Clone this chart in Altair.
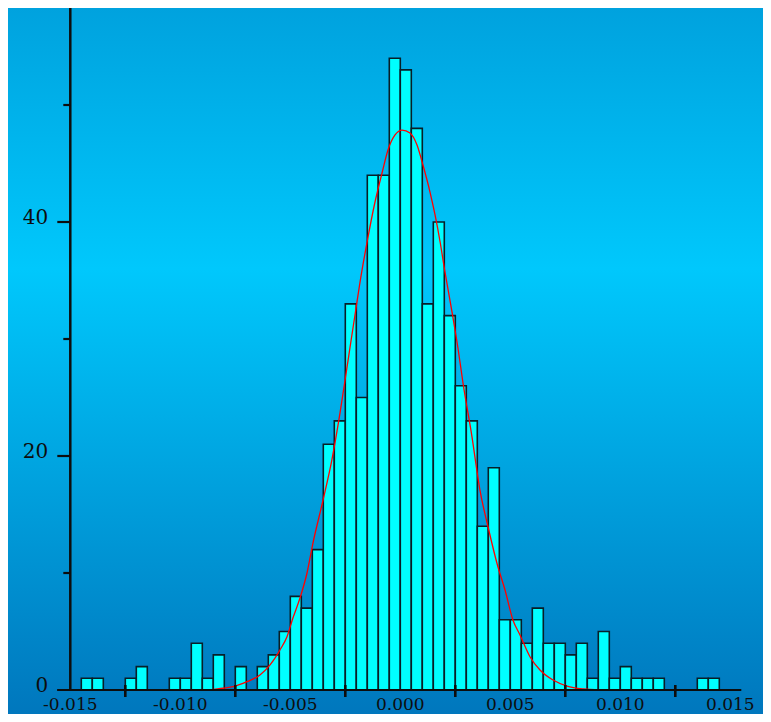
import altair as alt
import pandas as pd

# ---------------- data ----------------
bin_width = 0.0005
bin_starts = [-0.0145, -0.0140, -0.0125, -0.0120, -0.0105, -0.0100, -0.0095, -0.0090,
              -0.0085, -0.0075, -0.0065, -0.0060, -0.0055, -0.0050, -0.0045, -0.0040,
              -0.0035, -0.0030, -0.0025, -0.0020, -0.0015, -0.0010, -0.0005, 0.0000,
              0.0005, 0.0010, 0.0015, 0.0020, 0.0025, 0.0030, 0.0035, 0.0040,
              0.0045, 0.0050, 0.0055, 0.0060, 0.0065, 0.0070, 0.0075, 0.0080,
              0.0085, 0.0090, 0.0095, 0.0100, 0.0105, 0.0110, 0.0115, 0.0135, 0.0140]
counts = [1, 1, 1, 2, 1, 1, 4, 1,
          3, 2, 2, 3, 5, 8, 7, 12,
          21, 23, 33, 25, 44, 44, 54, 53,
          48, 33, 40, 32, 26, 23, 14, 19,
          6, 6, 4, 7, 4, 4, 3, 4,
          1, 5, 1, 2, 1, 1, 1, 1, 1]

curve_x = [-0.00865, -0.00806, -0.00761, -0.00697, -0.00638, -0.00592, -0.00547, -0.00515,
           -0.00488, -0.00456, -0.00424, -0.00397, -0.00351, -0.00311, -0.00274, -0.00242,
           -0.00229, -0.00206, -0.00183, -0.00151, -0.00115, -0.00083, -0.00056, -0.00024,
           0.00008, 0.00044, 0.00076, 0.00103, 0.00135, 0.00158, 0.00181, 0.00203,
           0.00235, 0.00262, 0.00285, 0.00326, 0.00362, 0.00399, 0.00444, 0.00476,
           0.00512, 0.00544, 0.00590, 0.00635, 0.00694, 0.00758, 0.00831, 0.00908]
curve_y = [0.0, 0.15, 0.28, 0.71, 1.28, 2.14, 3.42, 4.56,
           6.15, 7.86, 10.0, 12.56, 16.24, 19.66, 23.68, 27.61,
           29.23, 32.05, 34.87, 38.29, 41.71, 44.19, 46.15, 47.44,
           47.86, 47.61, 46.58, 44.87, 42.56, 40.60, 38.29, 35.73,
           32.31, 29.23, 26.24, 21.62, 17.09, 13.93, 10.51, 8.55,
           5.98, 4.70, 2.82, 1.71, 0.85, 0.34, 0.09, 0.0]

x_label_values = [-0.015, -0.010, -0.005, 0.000, 0.005, 0.010, 0.015]
x_label_texts = ["-0.015", "-0.010", "-0.005", "0.000", "0.005", "0.010", "0.015"]
x_tick_values = [-0.0125, -0.0075, -0.0025, 0.0025, 0.0075, 0.0125]
y_label_values = [0, 20, 40]
y_label_texts = ["0", "20", "40"]
y_tick_values = [10, 20, 30, 40, 50]
y_major_ticks = [20, 40]

# ---------------- layout ----------------
W, H = 755, 706
PX_PER_X = 22000.0
PX_PER_Y = 11.7
X0_PX = 392.3   # where x = 0 falls
Y0_PX = 682.0   # where y = 0 falls
x_domain = [-X0_PX / PX_PER_X, (W - X0_PX) / PX_PER_X]
y_domain = [-(H - Y0_PX) / PX_PER_Y, Y0_PX / PX_PER_Y]
xs = alt.Scale(domain=x_domain, nice=False, zero=False)
ys = alt.Scale(domain=y_domain, nice=False, zero=False)

axis_x = -0.015           # y axis sits at this x value
axis_top = 58.4
axis_left = -0.0156
axis_right = 0.0155

ink = "#0d0d0d"
font = "DejaVu Serif"

bars_df = pd.DataFrame({
    "x": bin_starts,
    "x2": [b + bin_width for b in bin_starts],
    "count": counts,
})
curve_df = pd.DataFrame({"x": curve_x, "y": curve_y})

bg_df = pd.DataFrame({"x": [x_domain[0]], "x2": [x_domain[1]],
                      "y": [y_domain[0]], "y2": [y_domain[1]]})

background = alt.Chart(bg_df).mark_rect(
    color={"gradient": "linear", "x1": 0, "y1": 0, "x2": 0, "y2": 1,
           "stops": [{"offset": 0.0, "color": "#00a2de"},
                     {"offset": 0.37, "color": "#00c8fc"},
                     {"offset": 1.0, "color": "#0077bd"}]}
).encode(
    x=alt.X("x:Q", scale=xs, axis=None), x2="x2:Q",
    y=alt.Y("y:Q", scale=ys, axis=None), y2="y2:Q",
)

bars = alt.Chart(bars_df).mark_rect(
    fill="#00ffff", stroke="#081f28", strokeWidth=1.6
).encode(
    x=alt.X("x:Q", scale=xs, axis=None), x2="x2:Q",
    y=alt.Y("count:Q", scale=ys, axis=None), y2=alt.datum(0),
)

curve = alt.Chart(curve_df).mark_line(
    color="#ff0000", strokeWidth=1.3, interpolate="monotone"
).encode(
    x=alt.X("x:Q", scale=xs, axis=None),
    y=alt.Y("y:Q", scale=ys, axis=None),
)

# axis lines
xaxis_df = pd.DataFrame({"x": [axis_left], "x2": [axis_right], "y": [0.0]})
xaxis_line = alt.Chart(xaxis_df).mark_rule(color=ink, strokeWidth=2.2).encode(
    x=alt.X("x:Q", scale=xs, axis=None), x2="x2:Q",
    y=alt.Y("y:Q", scale=ys, axis=None),
)
yaxis_df = pd.DataFrame({"x": [axis_x], "y": [0.0], "y2": [axis_top]})
yaxis_line = alt.Chart(yaxis_df).mark_rule(color=ink, strokeWidth=2.5).encode(
    x=alt.X("x:Q", scale=xs, axis=None),
    y=alt.Y("y:Q", scale=ys, axis=None), y2="y2:Q",
)

# y ticks (longer at labelled values)
ytick_df = pd.DataFrame({
    "y": y_tick_values,
    "x": [axis_x - (13 if v in y_major_ticks else 7) / PX_PER_X for v in y_tick_values],
    "x2": [axis_x] * len(y_tick_values),
})
yticks = alt.Chart(ytick_df).mark_rule(color=ink, strokeWidth=2.2).encode(
    x=alt.X("x:Q", scale=xs, axis=None), x2="x2:Q",
    y=alt.Y("y:Q", scale=ys, axis=None),
)

# x ticks crossing the axis line
xtick_df = pd.DataFrame({
    "x": x_tick_values,
    "y": [-7 / PX_PER_Y] * len(x_tick_values),
    "y2": [5 / PX_PER_Y] * len(x_tick_values),
})
xticks = alt.Chart(xtick_df).mark_rule(color=ink, strokeWidth=2.6).encode(
    x=alt.X("x:Q", scale=xs, axis=None),
    y=alt.Y("y:Q", scale=ys, axis=None), y2="y2:Q",
)

xlab_df = pd.DataFrame({"x": x_label_values, "t": x_label_texts, "y": [0.0] * len(x_label_values)})
xlabels = alt.Chart(xlab_df).mark_text(
    font=font, fontSize=17, color=ink, baseline="middle", align="center", dy=15
).encode(
    x=alt.X("x:Q", scale=xs, axis=None),
    y=alt.Y("y:Q", scale=ys, axis=None),
    text="t:N",
)

ylab_df = pd.DataFrame({"y": y_label_values, "t": y_label_texts, "x": [axis_x] * len(y_label_values)})
ylabels = alt.Chart(ylab_df).mark_text(
    font=font, fontSize=20, color=ink, baseline="middle", align="right", dx=-22, dy=-4
).encode(
    x=alt.X("x:Q", scale=xs, axis=None),
    y=alt.Y("y:Q", scale=ys, axis=None),
    text="t:N",
)

chart = alt.layer(
    background, bars, curve, xaxis_line, yaxis_line, yticks, xticks, xlabels, ylabels
).properties(
    width=W, height=H,
    padding=0,
    autosize=alt.AutoSizeParams(type="none"),
).configure_view(stroke=None)

chart.save("out.html", embed_options={"renderer": "svg", "actions": False})
